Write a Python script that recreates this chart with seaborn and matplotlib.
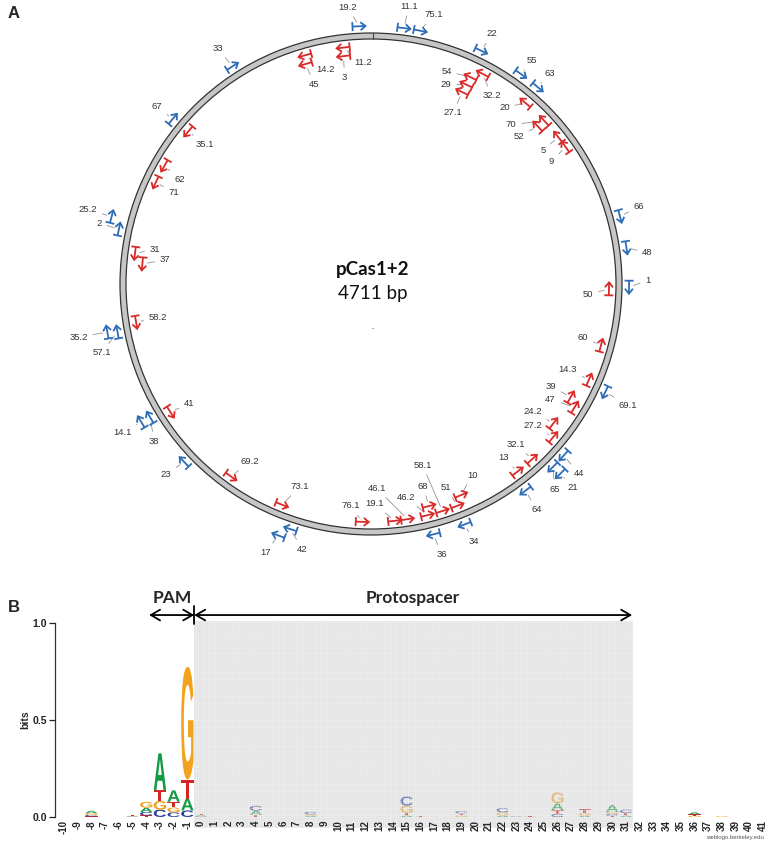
import numpy as np
import pandas as pd
import matplotlib
matplotlib.use("Agg")
import matplotlib.pyplot as plt
import seaborn as sns
from matplotlib.patches import Wedge, PathPatch, Rectangle
from matplotlib.textpath import TextPath
from matplotlib.font_manager import FontProperties
from matplotlib.transforms import Affine2D

# ---------------- data ----------------
plasmid_name = "pCas1+2"
plasmid_len = 4711

# protospacers on the + strand (blue, outside)
fwd_names = ["19.2", "11.1", "75.1", "22", "55", "63", "66", "48", "1", "69.1",
             "44", "65", "21", "64", "34", "36", "42", "17", "23", "38", "14.1",
             "57.1", "35.2", "2", "25.2", "67", "33"]
fwd_bp = [4676, 96, 144, 331, 465, 527, 979, 1072, 1187, 1502,
          1723, 1769, 1767, 1874, 2077, 2172, 2594, 2620, 2963, 3126, 3128,
          3393, 3398, 3694, 3724, 4054, 4286]
fwd_track = [1, 1, 1, 1, 1, 1, 1, 1, 1, 1,
             1, 1, 2, 1, 1, 1, 1, 2, 1, 1, 2,
             1, 2, 1, 2, 1, 1]

# protospacers on the - strand (red, inside)
rev_names = ["14.2", "45", "11.2", "3", "54", "32.2", "29", "27.1", "20", "70",
             "52", "5", "9", "50", "60", "14.3", "39", "47", "24.2", "27.2",
             "32.1", "13", "10", "51", "58.1", "68", "46.2", "46.1", "19.1",
             "76.1", "73.1", "69.2", "41", "58.2", "37", "31", "71", "62", "35.1"]
rev_bp = [4500, 4494, 4623, 4621, 336, 366, 334, 332, 529, 611,
          610, 678, 717, 1193, 1373, 1488, 1564, 1586, 1667, 1702,
          1798, 1858, 2053, 2077, 2127, 2164, 2176, 2240, 2281,
          2383, 2643, 2827, 3107, 3412, 3599, 3630, 3864, 3923, 4055]
rev_track = [1, 2, 1, 2, 2, 1, 3, 4, 1, 1,
             2, 1, 1, 1, 1, 1, 2, 1, 2, 1,
             1, 1, 2, 1, 1, 2, 1, 1, 1,
             1, 1, 1, 1, 1, 2, 1, 1, 1, 1]

# sequence logo (bits per base, positions -10 .. 41)
logo_positions = list(range(-10, 42))
bits_A = {-8: 0.012, -5: 0.002, -4: 0.022, -3: 0.190, -2: 0.058, -1: 0.061, 0: 0.006,
          4: 0.020, 8: 0.006, 15: 0.008, 22: 0.008, 26: 0.035, 28: 0.006, 30: 0.035,
          31: 0.008, 36: 0.010}
bits_C = {-8: 0.007, -5: 0.002, -4: 0.018, -3: 0.038, -2: 0.024, -1: 0.034, 0: 0.004,
          4: 0.026, 8: 0.012, 15: 0.048, 19: 0.012, 22: 0.022, 23: 0.003, 26: 0.016,
          30: 0.010, 31: 0.018}
bits_G = {-8: 0.010, -5: 0.002, -4: 0.030, -3: 0.045, -2: 0.025, -1: 0.581, 8: 0.008,
          15: 0.036, 16: 0.002, 19: 0.008, 22: 0.016, 24: 0.002, 26: 0.055, 28: 0.014,
          30: 0.012, 36: 0.006, 38: 0.004}
bits_T = {-8: 0.003, -5: 0.003, -4: 0.008, -3: 0.055, -2: 0.030, -1: 0.098, 0: 0.008,
          4: 0.012, 15: 0.014, 16: 0.003, 19: 0.010, 23: 0.002, 24: 0.003, 26: 0.020,
          28: 0.022, 30: 0.005, 31: 0.012, 36: 0.008}
pam_span = (-4, -1)
protospacer_span = (0, 31)

# ---------------- layout / style ----------------
label_offset = {  # pixel offsets of the labels (dx, dy; y downward)
    "19.2": (-11, -19), "11.1": (5, -22), "75.1": (13, -16), "22": (11, -17),
    "55": (11, -14), "63": (12, -14), "66": (19, -10), "48": (21, 5), "1": (19, -7),
    "69.1": (23, 13), "44": (15, 18), "65": (2, 22), "21": (12, 14), "64": (11, 19),
    "34": (9, 17), "36": (8, 20), "42": (12, 20), "17": (-13, 17), "23": (-18, 13),
    "38": (4, 24), "14.1": (-19, 11), "57.1": (-16, 21), "35.2": (-29, 5),
    "2": (-20, -6), "25.2": (-24, -7), "67": (-16, -12), "33": (-15, -18),
    "14.2": (21, 14), "45": (9, 20), "11.2": (20, 15), "3": (1, 21), "54": (-24, -6),
    "32.2": (9, 22), "29": (-20, 0), "27.1": (-9, 21), "20": (-21, 5), "70": (-33, 4),
    "52": (-19, 10), "5": (-15, 14), "9": (-14, 15), "50": (-21, 6), "60": (-18, -8),
    "14.3": (-21, -10), "39": (-20, -11), "47": (-24, -8), "24.2": (-21, -12),
    "27.2": (-20, -12), "32.1": (-16, -15), "13": (-14, -14), "10": (11, -20),
    "51": (-11, -18), "58.1": (-20, -46), "68": (-6, -20), "46.2": (-21, -18),
    "46.1": (-31, -31), "19.1": (-20, -17), "76.1": (-12, -16), "73.1": (18, -18),
    "69.2": (19, -15), "41": (19, -9), "58.2": (22, -5), "37": (23, -4), "31": (20, -4),
    "71": (18, 10), "62": (15, 14), "35.1": (16, 13),
}

W, H = 777, 843
BLUE = "#2e6cb5"
RED = "#d92a2a"
LOGO_COL = {"A": "#149a45", "C": "#2b3f9c", "G": "#f3a21f", "T": "#d42626"}

sns.set_theme(style="white")
plt.rcParams["font.family"] = ["Liberation Sans", "DejaVu Sans"]
plt.rcParams["hatch.linewidth"] = 0.35

fig = plt.figure(figsize=(W / 100, H / 100), dpi=100)
fig.patch.set_facecolor("white")

# ---------------- panel A : plasmid map ----------------
axA = fig.add_axes([0, 0, 1, 1])
axA.set_xlim(0, W)
axA.set_ylim(H, 0)
axA.axis("off")
axA.set_zorder(0)

cx, cy, R = 371.0, 284.0, 248.0
ring = Wedge((cx, cy), R + 3, 0, 360, width=6, facecolor="#c6c6c6",
             edgecolor="#333333", linewidth=0.9)
axA.add_patch(ring)
axA.plot([cx + 1.5, cx + 1.5], [cy - R - 3, cy - R + 3], color="#444444", lw=0.8)

axA.text(cx + 2, cy - 14, plasmid_name, ha="center", va="center", fontsize=13.5,
         fontweight="bold", family=["Lato", "DejaVu Sans"], color="#111111")
axA.text(cx + 2, cy + 9, f"{plasmid_len} bp", ha="center", va="center", fontsize=13.5,
         family=["Lato", "DejaVu Sans"], color="#111111")
axA.text(cx + 2, cy + 45, "-", ha="center", va="center", fontsize=5, color="#555555")


def draw_glyph(ax, bp, r, direction, color):
    th = np.deg2rad(bp / plasmid_len * 360.0)
    p = np.array([cx + r * np.sin(th), cy - r * np.cos(th)])
    t = np.array([np.cos(th), np.sin(th)]) * direction
    n = np.array([-t[1], t[0]])
    tail = p - t * 6.5
    tip = p + t * 6.5
    segs = [np.array([tail - n * 4.5, tail + n * 4.5]),
            np.array([tail, tip]),
            np.array([tip - t * 5 + n * 4, tip, tip - t * 5 - n * 4])]
    for s in segs:
        ax.plot(s[:, 0], s[:, 1], color=color, lw=1.3,
                solid_capstyle="butt", solid_joinstyle="miter", zorder=4)
    return p


def draw_strand(names, bps, tracks, direction, color, base_r, step):
    for name, bp, tr in zip(names, bps, tracks):
        r = base_r + step * (tr - 1)
        p = draw_glyph(axA, bp, r, direction, color)
        dx, dy = label_offset[name]
        axA.annotate(name, xy=(p[0], p[1]), xytext=(dx, -dy), textcoords="offset pixels",
                     ha="center", va="center", fontsize=6.8, color="#333333",
                     arrowprops=dict(arrowstyle="-", color="#8a8a8a", lw=0.55,
                                     shrinkA=1.5, shrinkB=3.5), zorder=3)


draw_strand(fwd_names, fwd_bp, fwd_track, 1, BLUE, R + 10, 10)
draw_strand(rev_names, rev_bp, rev_track, -1, RED, R - 10, -8.5)

axA.text(14, 14, "A", ha="center", va="center", fontsize=12, fontweight="bold")
axA.text(14, 608, "B", ha="center", va="center", fontsize=12, fontweight="bold")
axA.text(735, 838, "weblogo.berkeley.edu", ha="center", va="center", fontsize=4.3,
         color="#555555")

# ---------------- panel B : sequence logo ----------------
logo = pd.DataFrame({"pos": logo_positions})
for base, d in zip("ACGT", [bits_A, bits_C, bits_G, bits_T]):
    logo[base] = [d.get(p, 0.0) for p in logo_positions]

px0, spacing = 64.0, 13.706
xl = -10 - (px0 - 55) / spacing
xr = -10 + (W - px0) / spacing
axB = fig.add_axes([55 / W, (H - 817) / H, (W - 55) / W, 194 / H])
axB.set_zorder(1)
axB.patch.set_alpha(0)
axB.set_axisbelow(False)
axB.set_xlim(xl, xr)
axB.set_ylim(0, 1.0)

fp = FontProperties(family="Liberation Sans", weight="bold")


def draw_letter(ax, ch, x, y0, h, width=0.9):
    tp = TextPath((0, 0), ch, size=1, prop=fp)
    bb = tp.get_extents()
    tr = (Affine2D().translate(-bb.x0, -bb.y0)
          .scale(width / bb.width, h / bb.height)
          .translate(x - width / 2, y0))
    patch = PathPatch(tr.transform_path(tp), facecolor=LOGO_COL[ch], edgecolor="none",
                      zorder=1)
    ax.add_patch(patch)


for _, row in logo.iterrows():
    vals = sorted([(row[b], b) for b in "ACGT" if row[b] > 0])
    y = 0.0
    for h, b in vals:
        draw_letter(axB, b, row["pos"], y, h)
        y += h

# shaded protospacer region
shade = Rectangle((protospacer_span[0] - 0.5, -0.057),
                  protospacer_span[1] - protospacer_span[0] + 1, 1.067,
                  facecolor=(0.76, 0.76, 0.76, 0.45), edgecolor=(1.0, 1.0, 1.0, 0.45),
                  hatch="+++++++", linewidth=0, clip_on=False, zorder=2)
axB.add_patch(shade)

# PAM / protospacer arrows
ya = 1.041
arrow_kw = dict(arrowstyle="<->,head_length=0.55,head_width=0.32", color="black",
                lw=1.3, shrinkA=0, shrinkB=0)
axB.annotate("", xy=(pam_span[0] + 0.21, ya), xytext=(pam_span[1] + 0.5, ya),
             arrowprops=arrow_kw, annotation_clip=False)
axB.annotate("", xy=(protospacer_span[0] - 0.5, ya), xytext=(protospacer_span[1] + 0.45, ya),
             arrowprops=arrow_kw, annotation_clip=False)
axB.plot([-0.5, -0.5], [ya - 0.045, ya + 0.045], color="black", lw=1.3, clip_on=False)
axB.text((pam_span[0] + pam_span[1]) / 2 + 0.38, 1.128, "PAM", ha="center", va="center",
         fontsize=12.5, fontweight="bold", family=["Lato", "DejaVu Sans"])
axB.text((protospacer_span[0] + protospacer_span[1]) / 2 - 0.03, 1.128, "Protospacer",
         ha="center", va="center", fontsize=12.5, fontweight="bold",
         family=["Lato", "DejaVu Sans"])

# axes styling
sns.despine(ax=axB, top=True, right=True, bottom=True, left=False)
axB.spines["left"].set_bounds(0, 1.0)
axB.spines["left"].set_color("#333333")
axB.spines["left"].set_linewidth(0.9)
axB.set_yticks([0, 0.5, 1.0])
axB.set_yticklabels(["0.0", "0.5", "1.0"], fontsize=7.5, fontweight="bold")
axB.tick_params(axis="y", direction="out", length=4, width=0.9, pad=1.5, colors="#222222",
                left=True)
axB.set_xticks(logo_positions)
axB.set_xticklabels([str(p) for p in logo_positions], rotation=90, fontsize=7,
                    fontweight="bold")
axB.tick_params(axis="x", length=0, pad=2.5)
axB.set_ylabel("bits", fontsize=7.5, fontweight="bold", labelpad=2)
axB.grid(False)

fig.savefig("out.png", dpi=100, facecolor="white")
